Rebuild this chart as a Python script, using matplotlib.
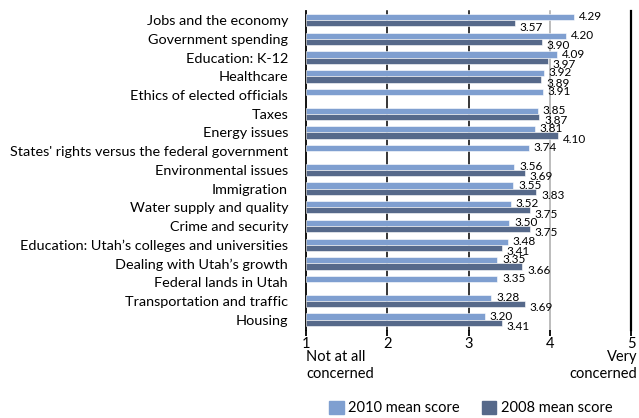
import numpy as np
import matplotlib
matplotlib.use('Agg')
import matplotlib.pyplot as plt
from matplotlib.patches import Patch

categories = [
    "Jobs and the economy", "Government spending", "Education: K-12", "Healthcare",
    "Ethics of elected officials", "Taxes", "Energy issues",
    "States' rights versus the federal government", "Environmental issues",
    "Immigration", "Water supply and quality", "Crime and security",
    "Education: Utah\u2019s colleges and universities", "Dealing with Utah\u2019s growth",
    "Federal lands in Utah", "Transportation and traffic", "Housing",
]
score_2010 = [4.29, 4.20, 4.09, 3.92, 3.91, 3.85, 3.81, 3.74, 3.56, 3.55,
              3.52, 3.50, 3.48, 3.35, 3.35, 3.28, 3.20]
score_2008 = [3.57, 3.90, 3.97, 3.89, None, 3.87, 4.10, None, 3.69, 3.83,
              3.75, 3.75, 3.41, 3.66, None, 3.69, 3.41]
x_ticks = [1, 2, 3, 4, 5]

c2010 = "#7f9fd0"
c2008 = "#56698a"
plt.rcParams['font.family'] = ['Lato', 'DejaVu Sans']

fig = plt.figure(figsize=(6.39, 4.18), dpi=100)
ax = fig.add_axes([0.479, 0.211, 0.509, 0.763])

y = np.arange(len(categories))
h = 0.33
for i in range(len(categories)):
    v10 = score_2010[i]
    ax.barh(y[i] - h / 2, v10 - 1, left=1, height=h, color=c2010,
            edgecolor="white", linewidth=0.4, zorder=3)
    ax.text(v10 + 0.06, y[i] - h / 2 - 0.02, f"{v10:.2f}", fontsize=8.5,
            va="center", ha="left", zorder=4)
    v08 = score_2008[i]
    if v08 is not None:
        ax.barh(y[i] + h / 2, v08 - 1, left=1, height=h, color=c2008,
                edgecolor="white", linewidth=0.4, zorder=3)
        ax.text(v08 + 0.06, y[i] + h / 2 + 0.2, f"{v08:.2f}", fontsize=8.5,
                va="center", ha="left", zorder=4)

ax.set_xlim(1, 5)
ax.set_ylim(16.55, -0.5)
ax.set_yticks(y)
ax.set_yticklabels(categories, fontsize=10.4)
ax.tick_params(axis="y", length=0, pad=13)
ax.set_xticks(x_ticks)
ax.set_xticklabels([str(t) for t in x_ticks], fontsize=10.5)
ax.tick_params(axis="x", length=4, width=1.3, pad=1)

for t in x_ticks[1:4]:
    ax.axvline(t, color="#aaaaaa" if t == 4 else "black", lw=1.1, zorder=1,
               clip_on=False)
for side in ["top", "bottom"]:
    ax.spines[side].set_visible(False)
ax.spines["left"].set_linewidth(1.3)
ax.spines["right"].set_linewidth(1.6)
ax.spines["right"].set_color("black")

fig.text(0.479, 0.088, "Not at all\nconcerned", fontsize=10.5, ha="left", va="bottom",
         linespacing=1.3)
fig.text(0.997, 0.088, "Very\nconcerned", fontsize=10.5, ha="right", va="bottom",
         linespacing=1.3)

handles = [Patch(color=c2010, label="2010 mean score"),
           Patch(color=c2008, label="2008 mean score")]
fig.legend(handles=handles, loc="center", bbox_to_anchor=(0.737, 0.024), ncol=2,
           frameon=False, fontsize=10.5, handlelength=1.0, handleheight=1.0,
           handletextpad=0.3, columnspacing=1.5)

plt.savefig("out.png", dpi=100)
plt.close()
